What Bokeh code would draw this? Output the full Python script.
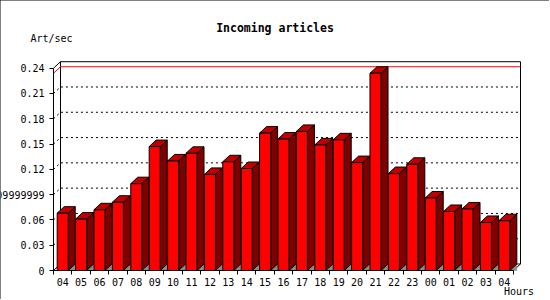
from bokeh.plotting import figure
from bokeh.models import FixedTicker, Label, InlineStyleSheet
from bokeh.embed import file_html
from bokeh.resources import INLINE

# ---- data ----
hours = ["04", "05", "06", "07", "08", "09", "10", "11", "12", "13", "14", "15", "16",
         "17", "18", "19", "20", "21", "22", "23", "00", "01", "02", "03", "04"]
values = [0.068, 0.061, 0.072, 0.081, 0.103, 0.147, 0.130, 0.139, 0.114, 0.129, 0.121,
          0.163, 0.156, 0.165, 0.149, 0.155, 0.128, 0.234, 0.115, 0.126, 0.086, 0.070,
          0.073, 0.057, 0.059]
yticks = [0, 0.03, 0.06, 0.09, 0.12, 0.15, 0.18, 0.21, 0.24]
ytick_labels = ["0", "0.03", "0.06", "0.09999999", "0.12", "0.15", "0.18", "0.21", "0.24"]
title_text = "Incoming articles"
y_title = "Art/sec"
x_title = "Hours"

# ---- geometry (pixels -> data) ----
PX_X = 18.4          # pixels per category
PX_Y = 842.9         # pixels per unit value
DX = 7.0 / PX_X      # 3D depth offset in x
DY = 6.5 / PX_Y      # 3D depth offset in y
BW = 0.6             # bar front width
n = len(values)
YMAX = yticks[-1]

AX_L, AX_B = 53, 270     # pixel position of the front axes
W, H = 549, 299

x_start = -0.5 - AX_L / PX_X
x_end = -0.5 + (W - AX_L) / PX_X
y_start = -(H - AX_B) / PX_Y
y_end = AX_B / PX_Y

def px2x(px):
    return -0.5 + (px - AX_L) / PX_X

def py2y(py):
    return (AX_B - py) / PX_Y

border_css = InlineStyleSheet(css=":host { outline: 1px solid black; outline-offset: -1px; }")

p = figure(width=W, height=H, output_backend="svg", toolbar_location=None,
           x_range=(x_start, x_end), y_range=(y_start, y_end),
           min_border=0, min_border_left=0, min_border_right=0,
           min_border_top=0, min_border_bottom=0,
           background_fill_color="white", border_fill_color="white",
           outline_line_color=None, stylesheets=[border_css])
p.title.visible = False
p.xgrid.visible = False
p.ygrid.visible = False

x0w, x1w = -0.5, -0.5 + n

# back wall
p.patch([x0w + DX, x1w + DX, x1w + DX, x0w + DX], [DY, DY, YMAX + DY, YMAX + DY],
        fill_color="white", line_color="black", line_width=1)

# dotted gridlines (3D)
for v in yticks[1:-1]:
    p.line([x0w, x0w + DX, x1w + DX], [v, v + DY, v + DY],
           line_color="black", line_width=1, line_dash="2 3")

# red max line
vmax = max(values)
p.line([x0w, x0w + DX, x1w + DX], [vmax, vmax + DY, vmax + DY],
       line_color="#ff0000", line_width=1)

# wall connecting edges
p.line([x0w, x0w + DX], [YMAX, YMAX + DY], line_color="black", line_width=1)
p.line([x1w, x1w + DX], [0, DY], line_color="black", line_width=1)
p.line([x0w, x0w + DX], [0, DY], line_color="black", line_width=1)

# bars
tri_xs, tri_ys = [], []
side_xs, side_ys = [], []
top_xs, top_ys = [], []
front_xs, front_ys = [], []
for i, v in enumerate(values):
    a = i - BW / 2
    b = i + BW / 2
    tri_xs.append([b, b + DX, b + DX]); tri_ys.append([0, DY, 0])
    side_xs.append([b, b + DX, b + DX, b]); side_ys.append([0, DY, v + DY, v])
    top_xs.append([a, a + DX, b + DX, b]); top_ys.append([v, v + DY, v + DY, v])
    front_xs.append([a, b, b, a]); front_ys.append([0, 0, v, v])

p.patches(tri_xs, tri_ys, fill_color="#8c8c8c", line_color="#8c8c8c", line_width=0.5)
p.patches(side_xs, side_ys, fill_color="#800000", line_color="black", line_width=1)
p.patches(top_xs, top_ys, fill_color="#c00000", line_color="black", line_width=1)
p.patches(front_xs, front_ys, fill_color="#ff0000", line_color="black", line_width=1)

FONT = "DejaVu Sans Mono"

# x axis (front edge of the floor)
xa = p.xaxis[0]
xa.fixed_location = 0
xa.bounds = (x0w, x1w)
xa.ticker = FixedTicker(ticks=list(range(n)), minor_ticks=[i - 0.5 for i in range(n + 1)])
xa.major_label_overrides = {i: h for i, h in enumerate(hours)}
xa.major_tick_out = 0
xa.major_tick_in = 0
xa.major_tick_line_color = None
xa.minor_tick_out = 4
xa.minor_tick_in = 0
xa.minor_tick_line_color = "black"
xa.axis_line_color = "black"
xa.major_label_standoff = 3
xa.major_label_text_font = FONT
xa.major_label_text_font_size = "10px"
xa.major_label_text_color = "black"

# y axis (front left edge)
ya = p.yaxis[0]
ya.fixed_location = x0w
ya.bounds = (0, YMAX)
ya.ticker = FixedTicker(ticks=yticks, minor_ticks=[])
ya.major_label_overrides = {t: lab for t, lab in zip(yticks, ytick_labels)}
ya.major_tick_out = 4
ya.major_tick_in = 0
ya.major_tick_line_color = "black"
ya.minor_tick_line_color = None
ya.axis_line_color = "black"
ya.major_label_standoff = 5
ya.major_label_text_font = FONT
ya.major_label_text_font_size = "10px"
ya.major_label_text_color = "black"

p.add_layout(Label(x=px2x(274.5), y=py2y(27.5), text=title_text,
                   text_align="center", text_baseline="middle",
                   text_font=FONT, text_font_size="11.5px", text_font_style="bold",
                   text_color="black"))
p.add_layout(Label(x=px2x(30), y=py2y(37.5), text=y_title,
                   text_align="left", text_baseline="middle",
                   text_font=FONT, text_font_size="10px", text_color="black"))
p.add_layout(Label(x=px2x(533.5), y=py2y(290.5), text=x_title,
                   text_align="right", text_baseline="middle",
                   text_font=FONT, text_font_size="10px", text_color="black"))

open("out.html", "w").write(file_html(p, INLINE))
